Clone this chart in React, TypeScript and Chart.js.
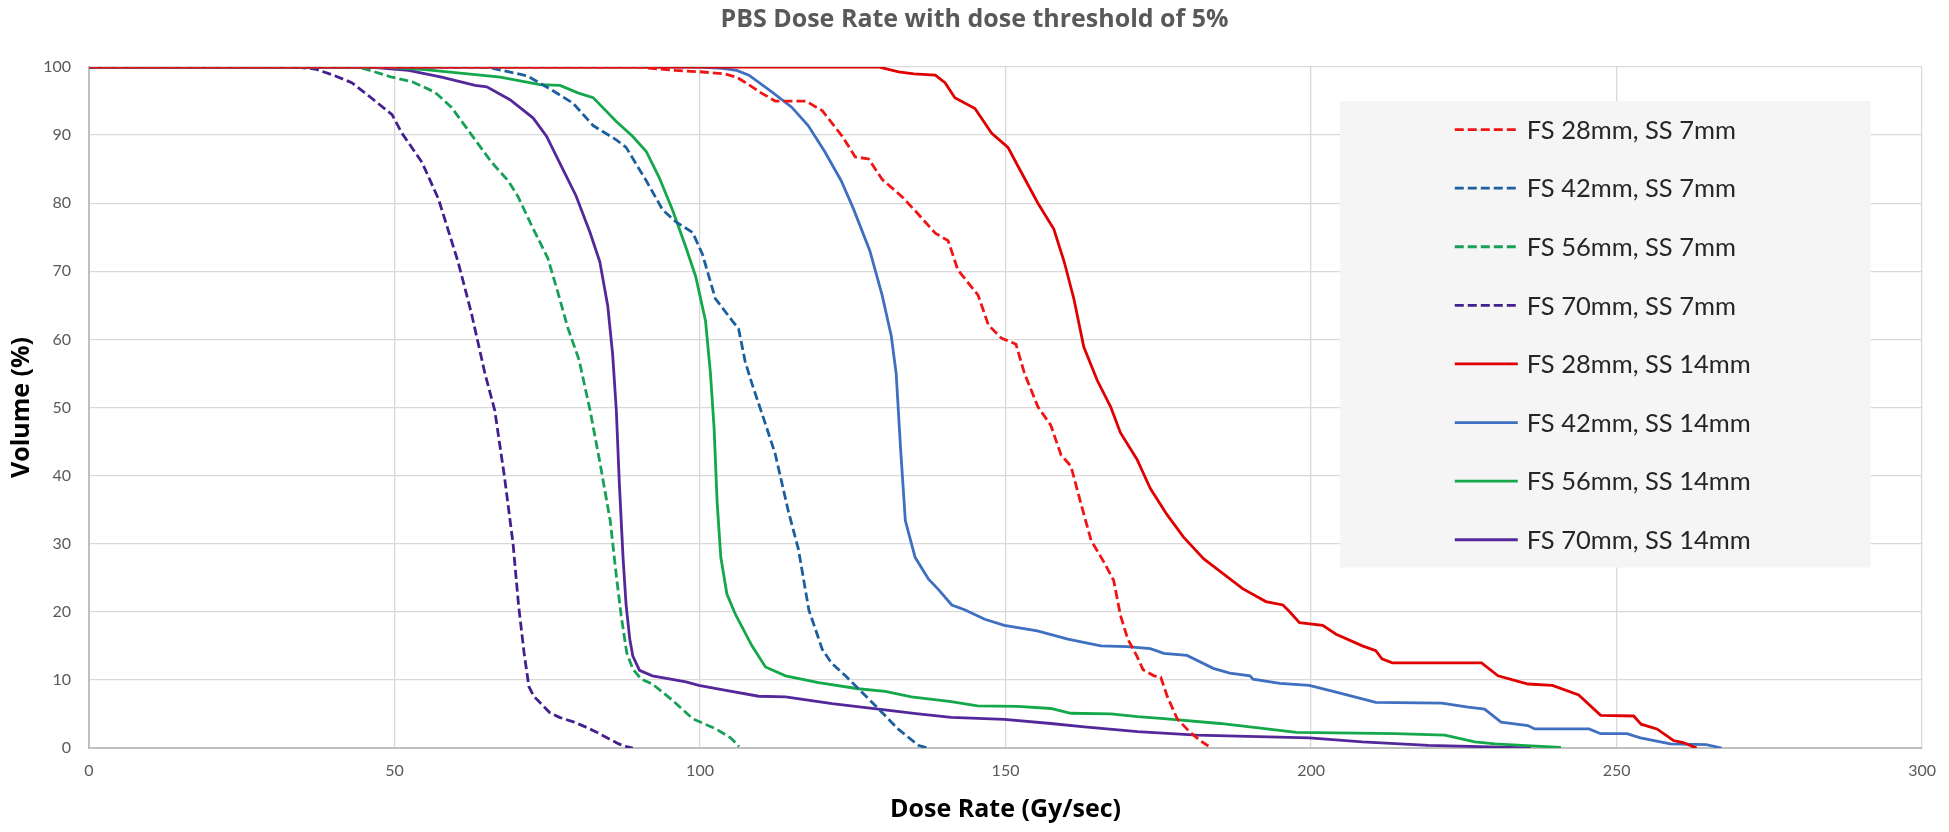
import { useEffect, useRef } from "react"
import { Chart, registerables } from "chart.js"

Chart.register(...registerables)

// values (dose rate in Gy/sec, volume in %)
const fs28ss7X = [0, 90, 92, 96, 100, 104, 106, 108, 110, 112.3, 115, 117.3, 120, 123.3, 125.4, 127.6, 129.8, 133, 135.2, 138.5, 140.6, 142.2, 145.5, 147.2, 149.3, 151.7, 153.1, 155.3, 157.4, 159.1, 160.7, 162.3, 164, 166.1, 167.7, 168.8, 170, 171.5, 172.5, 174.3, 175.4, 176.5, 178.1, 180.2, 182, 183.2]
const fs28ss7Y = [100, 100, 99.8, 99.5, 99.3, 99, 98.5, 97.4, 96.2, 95, 95, 95, 93.6, 89.8, 86.8, 86.5, 83.5, 81, 78.9, 75.6, 74.5, 70.2, 66.5, 62.1, 60.2, 59.3, 55, 50.1, 47.4, 43, 41.4, 36, 30.5, 27.3, 24.6, 19.5, 16, 13.5, 11.5, 10.6, 10.4, 7.5, 4.3, 2.3, 1, 0.3]

const fs42ss7X = [0, 65, 71.7, 75.4, 79.2, 82.5, 86.3, 87.9, 91.2, 93.9, 96, 98.8, 100.4, 102.5, 105.3, 106.3, 107.4, 108.5, 110.7, 112.3, 114.5, 116.1, 117.8, 120, 121.5, 123.8, 126.5, 129.7, 132.4, 135.7, 137.3]
const fs42ss7Y = [100, 100, 98.7, 96.8, 94.7, 91.4, 89.3, 88.2, 83.3, 79, 77.3, 75.7, 72.5, 66, 62.7, 61.6, 56.7, 53.5, 47.6, 43.2, 34.6, 29.2, 20.3, 14.5, 12.5, 10.6, 8.2, 5.3, 2.8, 0.4, 0]

const fs56ss7X = [0, 44, 46, 49.6, 53, 56.6, 59.3, 63.2, 65.9, 68.6, 70.2, 72.4, 75.1, 76.7, 78.4, 80.2, 82, 83.6, 85.3, 86.3, 87.1, 88, 89, 90.4, 92.2, 95.5, 98.8, 102.6, 105, 106.4]
const fs56ss7Y = [100, 100, 99.5, 98.5, 97.8, 96.3, 94.1, 89.3, 86, 83.3, 81, 76.8, 71.9, 67, 61.6, 57, 49.6, 42, 33.4, 25.3, 19.4, 14, 11.6, 10.1, 9.4, 7, 4.3, 2.8, 1.5, 0.2]

const fs70ss7X = [0, 34, 37, 40, 43, 46, 49.6, 51.2, 54.5, 57.2, 60.4, 62.6, 64.8, 66.4, 68, 69.4, 70.3, 71.2, 72, 72.8, 75.4, 77, 79.4, 81.5, 83.1, 85, 86.7, 88, 89]
const fs70ss7Y = [100, 100, 99.7, 98.8, 97.7, 95.6, 93, 90.3, 86, 80.6, 71.4, 63.8, 55, 49.6, 39.8, 30, 21, 14, 9, 7.6, 5.2, 4.5, 3.8, 3, 2.3, 1.4, 0.6, 0.2, 0]

const fs28ss14X = [0, 128, 129.2, 132.5, 135, 138.5, 140.1, 141.7, 145, 147.7, 150.4, 152, 155.3, 157.9, 159.6, 161.2, 162.8, 165, 167.2, 168.8, 171.5, 173.7, 176.4, 179.1, 182.4, 185.6, 188.8, 192.6, 195.4, 196.5, 198.1, 201.9, 204.1, 208.4, 210.6, 211.6, 213.3, 227.9, 230.6, 235.5, 239.5, 243.8, 247.4, 252.8, 254, 256.6, 259.3, 260.9, 263.1]
const fs28ss14Y = [100, 100, 100, 99.3, 99, 98.8, 97.7, 95.5, 93.9, 90.3, 88.2, 85.5, 80, 76.2, 71.4, 65.9, 58.9, 54, 50.1, 46.3, 42.4, 38.1, 34.3, 31, 27.8, 25.6, 23.4, 21.5, 21, 20, 18.4, 18, 16.7, 15, 14.3, 13.1, 12.5, 12.5, 10.6, 9.4, 9.2, 7.8, 4.8, 4.7, 3.5, 2.8, 1.1, 0.8, 0]

const fs42ss14X = [0, 100, 103.6, 106, 108, 111.8, 115, 117.7, 120.4, 123.1, 125.1, 127.8, 129.8, 131.3, 132.1, 132.8, 133.6, 135.2, 137.4, 139, 141.2, 143.3, 146.6, 149.8, 155.2, 160.2, 165.6, 169.9, 173.7, 175.9, 179.7, 184, 186.7, 190, 190.5, 194.9, 199.7, 204.1, 210.6, 221.4, 225.7, 228.4, 231.1, 235.5, 236.6, 245.5, 247.4, 251.7, 253.9, 258.8, 264.7, 267.2]
const fs42ss14Y = [100, 100, 99.8, 99.5, 98.8, 96.3, 94.1, 91.4, 87.6, 83.3, 79.2, 73, 66.5, 60.5, 55, 44.3, 33.4, 28, 24.8, 23.3, 21, 20.3, 18.9, 18, 17.2, 16, 15, 14.9, 14.6, 13.9, 13.6, 11.7, 11, 10.6, 10.1, 9.5, 9.2, 8.2, 6.7, 6.6, 6, 5.7, 3.8, 3.3, 2.8, 2.8, 2.1, 2.1, 1.5, 0.6, 0.5, 0]

const fs56ss14X = [0, 48, 55, 62, 67.3, 73.8, 77.1, 80, 82.5, 86.3, 89, 91.2, 93.3, 95.5, 97.7, 99.3, 100.9, 101.7, 102.3, 102.8, 103.4, 104.4, 105.8, 108.5, 110.7, 114, 119.4, 125.9, 130.3, 134.6, 141.1, 145.4, 152, 157.4, 160.7, 167.2, 171.6, 175.9, 185.1, 197.6, 213.8, 221.9, 226.8, 230.1, 236, 240.9]
const fs56ss14Y = [100, 100, 99.6, 99, 98.5, 97.4, 97.3, 96.2, 95.5, 92, 89.8, 87.6, 83.8, 79, 73.5, 69.2, 62.7, 55.1, 47, 36.1, 28, 22.6, 19.6, 15, 11.9, 10.6, 9.6, 8.7, 8.3, 7.5, 6.8, 6.2, 6.1, 5.8, 5.1, 5, 4.6, 4.3, 3.6, 2.3, 2.1, 1.9, 0.9, 0.6, 0.3, 0.1]

const fs70ss14X = [0, 46, 52.3, 57.7, 63.2, 65.1, 68.9, 72.7, 74.9, 77.6, 79.7, 82, 83.6, 84.9, 85.7, 86.3, 86.8, 87.4, 87.9, 88.5, 89, 90.1, 92.2, 97.7, 99.8, 104, 109.6, 114, 121.6, 129.2, 135.7, 141.1, 149.8, 157.4, 162.9, 171.6, 181.3, 199.7, 208.4, 219.2, 236]
const fs70ss14Y = [100, 100, 99.5, 98.5, 97.3, 97.1, 95.2, 92.5, 89.8, 84.9, 81.1, 75.7, 71.4, 64.9, 57.8, 49.6, 38.8, 28, 21, 16, 13.5, 11.4, 10.6, 9.7, 9.2, 8.5, 7.6, 7.5, 6.5, 5.7, 5, 4.5, 4.2, 3.6, 3.1, 2.4, 1.9, 1.5, 0.9, 0.4, 0]

const seriesLabels = [
  "FS 28mm, SS 7mm",
  "FS 42mm, SS 7mm",
  "FS 56mm, SS 7mm",
  "FS 70mm, SS 7mm",
  "FS 28mm, SS 14mm",
  "FS 42mm, SS 14mm",
  "FS 56mm, SS 14mm",
  "FS 70mm, SS 14mm",
]

const xRange = [0, 300]
const yRange = [0, 100]

const FONT = "Lato, 'Open Sans', sans-serif"
const HEAD_FONT = "'Open Sans', Lato, sans-serif"

function toPoints(xs: number[], ys: number[]) {
  return xs.map((x, i) => ({ x, y: ys[i] }))
}

// legend drawn inside the plot, on a light grey panel
const insideLegend = {
  id: "insideLegend",
  afterDatasetsDraw(chart: any) {
    const { ctx, scales } = chart
    const left = scales.x.getPixelForValue(204.7)
    const right = scales.x.getPixelForValue(291.6)
    const top = scales.y.getPixelForValue(95)
    const bottom = scales.y.getPixelForValue(26.5)

    ctx.save()
    ctx.fillStyle = "#f5f5f5"
    ctx.fillRect(left, top, right - left, bottom - top)

    ctx.font = `25.5px ${FONT}`
    ctx.textBaseline = "middle"
    ctx.textAlign = "left"
    chart.data.datasets.forEach((ds: any, i: number) => {
      const y = top + 28.5 + i * 58.6
      ctx.strokeStyle = ds.borderColor
      ctx.lineWidth = ds.borderWidth
      ctx.setLineDash(ds.borderDash || [])
      ctx.beginPath()
      ctx.moveTo(left + 115, y)
      ctx.lineTo(left + 178, y)
      ctx.stroke()
      ctx.setLineDash([])
      ctx.fillStyle = "#262626"
      ctx.fillText(ds.label, left + 187, y + 1)
    })
    ctx.restore()
  },
}

export default function App() {
  const chartRef = useRef<HTMLCanvasElement>(null)
  const chartInstance = useRef<Chart | null>(null)

  useEffect(() => {
    document.body.style.margin = "0"
    if (!chartRef.current) return
    if (chartInstance.current) chartInstance.current.destroy()

    const ctx = chartRef.current.getContext("2d")
    if (!ctx) return

    const dashed = [9, 4]
    const line = (label: string, xs: number[], ys: number[], color: string, dash?: number[]) => ({
      label,
      data: toPoints(xs, ys),
      borderColor: color,
      backgroundColor: color,
      borderWidth: 2.8,
      borderDash: dash,
      pointRadius: 0,
      tension: 0,
      fill: false,
    })

    chartInstance.current = new Chart(ctx, {
      type: "line",
      data: {
        datasets: [
          line(seriesLabels[0], fs28ss7X, fs28ss7Y, "#f01414", dashed),
          line(seriesLabels[1], fs42ss7X, fs42ss7Y, "#1c5f9e", dashed),
          line(seriesLabels[2], fs56ss7X, fs56ss7Y, "#16a058", dashed),
          line(seriesLabels[3], fs70ss7X, fs70ss7Y, "#44208f", dashed),
          line(seriesLabels[4], fs28ss14X, fs28ss14Y, "#e00000"),
          line(seriesLabels[5], fs42ss14X, fs42ss14Y, "#3f6fc0"),
          line(seriesLabels[6], fs56ss14X, fs56ss14Y, "#14a84a"),
          line(seriesLabels[7], fs70ss14X, fs70ss14Y, "#54289a"),
        ],
      },
      options: {
        responsive: false,
        animation: false,
        devicePixelRatio: 1,
        layout: { padding: 0 },
        plugins: {
          legend: { display: false },
          tooltip: { enabled: false },
          title: {
            display: true,
            text: "PBS Dose Rate with dose threshold of 5%",
            color: "#595959",
            font: { family: HEAD_FONT, size: 25, weight: "bold" },
            padding: { top: 4.5, bottom: 32.5 },
          },
        },
        scales: {
          x: {
            type: "linear",
            min: xRange[0],
            max: xRange[1],
            ticks: {
              stepSize: 50,
              color: "#595959",
              font: { family: FONT, size: 16 },
              padding: 13,
              maxRotation: 0,
            },
            grid: { color: "#d9d9d9", lineWidth: 1.3, drawTicks: false },
            border: { color: "#bfbfbf", width: 2 },
            title: {
              display: true,
              text: "Dose Rate (Gy/sec)",
              color: "#000000",
              font: { family: HEAD_FONT, size: 25, weight: "bold" },
              padding: { top: 0, bottom: 7 },
            },
            afterFit: (scale: any) => {
              scale.height = 84
            },
          },
          y: {
            min: yRange[0],
            max: yRange[1],
            ticks: {
              stepSize: 10,
              color: "#595959",
              font: { family: FONT, size: 16 },
              padding: 18,
            },
            grid: { color: "#d9d9d9", lineWidth: 1.3, drawTicks: false },
            border: { color: "#bfbfbf", width: 2 },
            title: {
              display: true,
              text: "Volume (%)",
              color: "#000000",
              font: { family: HEAD_FONT, size: 25, weight: "bold" },
              padding: { top: 7, bottom: 0 },
            },
            afterFit: (scale: any) => {
              scale.width = 89
            },
          },
          // empty right-hand strip so the title centres on the full width
          gutter: {
            position: "right",
            min: yRange[0],
            max: yRange[1],
            ticks: { display: false },
            grid: { display: false, drawTicks: false },
            border: { display: false },
            afterFit: (scale: any) => {
              scale.width = 15
            },
          },
        },
      },
      plugins: [insideLegend],
    })

    return () => {
      if (chartInstance.current) {
        chartInstance.current.destroy()
        chartInstance.current = null
      }
    }
  }, [])

  return (
    <div style={{ width: 1949, height: 832, background: "#ffffff" }}>
      <canvas ref={chartRef} width={1949} height={832} style={{ display: "block" }} />
    </div>
  )
}
